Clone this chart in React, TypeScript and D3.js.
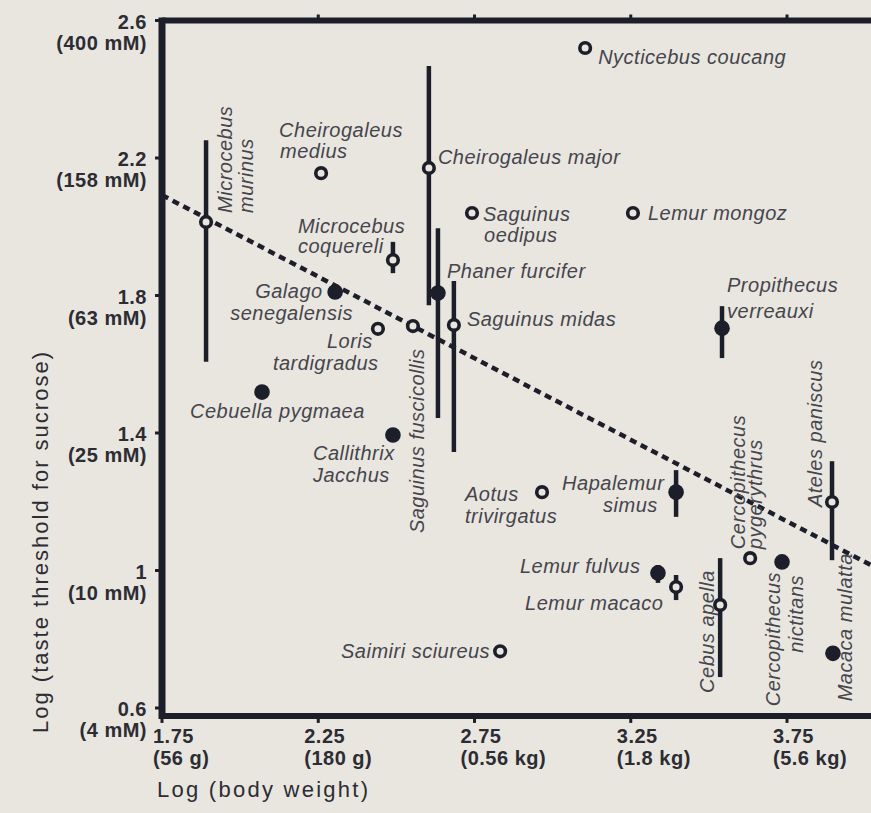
import React from "react";
import * as d3 from "d3";

// ---------- data ----------
const species = [
  "Microcebus\nmurinus",
  "Cheirogaleus\nmedius",
  "Cheirogaleus major",
  "Saguinus\noedipus",
  "Nycticebus coucang",
  "Lemur mongoz",
  "Microcebus\ncoquereli",
  "Galago\nsenegalensis",
  "Phaner furcifer",
  "Saguinus midas",
  "Saguinus fuscicollis",
  "Loris\ntardigradus",
  "Propithecus\nverreauxi",
  "Cebuella pygmaea",
  "Callithrix\nJacchus",
  "Aotus\ntrivirgatus",
  "Hapalemur\nsimus",
  "Ateles paniscus",
  "Cercopithecus\npygerythrus",
  "Cercopithecus\nnictitans",
  "Lemur fulvus",
  "Lemur macaco",
  "Cebus apella",
  "Saimiri sciureus",
  "Macaca mulatta",
];
const logBodyWeight = [
  1.891, 2.259, 2.604, 2.742, 3.104, 3.257, 2.489, 2.304, 2.633, 2.684, 2.553, 2.441, 3.542,
  2.07, 2.489, 2.966, 3.395, 3.894, 3.632, 3.734, 3.337, 3.395, 3.536, 2.832, 3.897,
];
const logThreshold = [
  2.014, 2.156, 2.171, 2.04, 2.52, 2.04, 1.903, 1.81, 1.807, 1.714, 1.711, 1.703, 1.705,
  1.519, 1.394, 1.228, 1.228, 1.199, 1.036, 1.025, 0.993, 0.952, 0.9, 0.765, 0.759,
];
const errHigh: (number | null)[] = [
  2.252, null, 2.468, null, null, null, 1.956, null, 1.996, 1.842, null, null, 1.769,
  null, null, null, 1.292, 1.318, null, null, 1.016, 0.987, 1.036, null, null,
];
const errLow: (number | null)[] = [
  1.607, null, 1.772, null, null, null, 1.865, null, 1.444, 1.345, null, null, 1.618,
  null, null, null, 1.156, 1.03, null, null, 0.964, 0.914, 0.69, null, null,
];
const markerType = [
  "open", "open", "open", "open", "open", "open", "open", "filled", "filled", "open", "open", "open", "filled",
  "filled", "filled", "open", "filled", "open", "open", "filled", "filled", "open", "open", "open", "filled",
];

const xTicks = [1.75, 2.25, 2.75, 3.25, 3.75];
const xTickSub = ["(56 g)", "(180 g)", "(0.56 kg)", "(1.8 kg)", "(5.6 kg)"];
const yTicks = [2.6, 2.2, 1.8, 1.4, 1, 0.6];
const yTickSub = ["(400 mM)", "(158 mM)", "(63 mM)", "(25 mM)", "(10 mM)", "(4 mM)"];

const regressionX = [1.75, 4.1];
const regressionY = [2.092, 0.977];

// ---------- label layout (offsets from the point, px) ----------
type Lay = { dx: number[]; dy: number[]; rot?: boolean; anchor?: "start" | "end" | "middle" };
const labelLayout: Lay[] = [
  { dx: [26, 47], dy: [-9, -9], rot: true },
  { dx: [-42, -41], dy: [-36, -15] },
  { dx: [9], dy: [-4] },
  { dx: [11, 12], dy: [8, 29] },
  { dx: [13], dy: [16] },
  { dx: [15], dy: [7] },
  { dx: [-95, -95], dy: [-27, -7] },
  { dx: [-80, -105], dy: [6, 28] },
  { dx: [9], dy: [-15] },
  { dx: [13], dy: [1] },
  { dx: [11], dy: [207], rot: true },
  { dx: [-51, -105], dy: [19, 41] },
  { dx: [5, 5], dy: [-36, -10] },
  { dx: [-72], dy: [26] },
  { dx: [-80, -80], dy: [25, 47] },
  { dx: [-77, -77], dy: [9, 31] },
  { dx: [-114, -73], dy: [-2, 20] },
  { dx: [-10], dy: [5], rot: true },
  { dx: [-5, 12], dy: [-9, -9], rot: true },
  { dx: [-2, 21], dy: [10, 13], rot: true, anchor: "end" },
  { dx: [-138], dy: [0] },
  { dx: [-151], dy: [23] },
  { dx: [-6], dy: [88], rot: true },
  { dx: [-10], dy: [7], anchor: "end" },
  { dx: [19], dy: [48], rot: true },
];

const W = 871;
const H = 813;
const BG = "#e9e6df";
const INK = "#1c1e29";
const LABEL = "#45454d";
const FONT = "'Liberation Sans', Arial, Helvetica, sans-serif";

export default function App() {
  const x = d3.scaleLinear().domain([1.75, 4.02]).range([162, 871.4]);
  const y = d3.scaleLinear().domain([0.6, 2.6]).range([708, 20.5]);
  const yBottom = y(0.577);
  const reg = d3.line<number>()
    .x((_, i) => x(regressionX[i]))
    .y((_, i) => y(regressionY[i]))(regressionX);

  return (
    <div style={{ position: "absolute", left: 0, top: 0 }}>
      <svg width={W} height={H} style={{ display: "block", fontFamily: FONT }}>
        <rect x={0} y={0} width={W} height={H} fill={BG} />

        {/* frame */}
        <line x1={x(1.75)} x2={W + 10} y1={y(2.6)} y2={y(2.6)} stroke={INK} strokeWidth={6} />
        <line x1={x(1.75)} x2={W + 10} y1={yBottom} y2={yBottom} stroke={INK} strokeWidth={6} />
        <line x1={x(1.75)} x2={x(1.75)} y1={y(2.6) - 3} y2={yBottom + 3} stroke={INK} strokeWidth={7} />

        {/* y ticks */}
        {yTicks.map((t, i) => (
          <g key={"yt" + i}>
            <line x1={x(1.75) - 7} x2={x(1.75)} y1={y(t)} y2={y(t)} stroke={INK} strokeWidth={3} />
            <text x={147} y={y(t) + 8} textAnchor="end" fontSize={20} fontWeight={700} fill="#2c2c34" letterSpacing={0.5}>
              {String(t)}
            </text>
            <text x={147} y={y(t) + 29} textAnchor="end" fontSize={20} fontWeight={700} fill="#2c2c34" letterSpacing={0.5}>
              {yTickSub[i]}
            </text>
          </g>
        ))}

        {/* x ticks */}
        {xTicks.map((t, i) => (
          <g key={"xt" + i}>
            <line x1={x(t)} x2={x(t)} y1={yBottom} y2={yBottom + 7} stroke={INK} strokeWidth={3} />
            {i > 0 && <line x1={x(t)} x2={x(t)} y1={y(2.6) - 6} y2={y(2.6)} stroke={INK} strokeWidth={3} />}
            <text x={x(t) - (i === 0 ? 9 : 14)} y={743} fontSize={20} fontWeight={700} fill="#2c2c34" letterSpacing={0.5}>
              {t.toFixed(2)}
            </text>
            <text x={x(t) - (i === 0 ? 9 : 14)} y={765} fontSize={20} fontWeight={700} fill="#2c2c34" letterSpacing={0.5}>
              {xTickSub[i]}
            </text>
          </g>
        ))}

        {/* axis titles */}
        <text x={157} y={797} fontSize={22} fill="#2c2c34" textLength={211} lengthAdjust="spacing">
          Log (body weight)
        </text>
        <text
          transform={`translate(48,733) rotate(-90)`}
          fontSize={22}
          fill="#2c2c34"
          textLength={381}
          lengthAdjust="spacing"
        >
          Log (taste threshold for sucrose)
        </text>

        {/* regression line */}
        <path d={reg || ""} fill="none" stroke={INK} strokeWidth={4.5} strokeDasharray="7 5" />

        {/* error bars */}
        {species.map((s, i) =>
          errHigh[i] != null && errLow[i] != null ? (
            <line
              key={"e" + i}
              x1={x(logBodyWeight[i])}
              x2={x(logBodyWeight[i])}
              y1={y(errHigh[i] as number)}
              y2={y(errLow[i] as number)}
              stroke={INK}
              strokeWidth={4.5}
            />
          ) : null
        )}

        {/* markers */}
        {species.map((s, i) =>
          markerType[i] === "filled" ? (
            <circle key={"m" + i} cx={x(logBodyWeight[i])} cy={y(logThreshold[i])} r={7.8} fill={INK} />
          ) : (
            <circle
              key={"m" + i}
              cx={x(logBodyWeight[i])}
              cy={y(logThreshold[i])}
              r={5.3}
              fill={BG}
              stroke={INK}
              strokeWidth={3.6}
            />
          )
        )}

        {/* labels */}
        {species.map((s, i) => {
          const lay = labelLayout[i];
          const px = x(logBodyWeight[i]);
          const py = y(logThreshold[i]);
          return s.split("\n").map((line, j) => (
            <text
              key={"l" + i + "_" + j}
              transform={`translate(${px + lay.dx[j]},${py + lay.dy[j]})${lay.rot ? " rotate(-90)" : ""}`}
              textAnchor={lay.anchor || "start"}
              fontSize={20}
              fontStyle="italic"
              fill={LABEL}
              letterSpacing={0.5}
            >
              {line}
            </text>
          ));
        })}
      </svg>
    </div>
  );
}
